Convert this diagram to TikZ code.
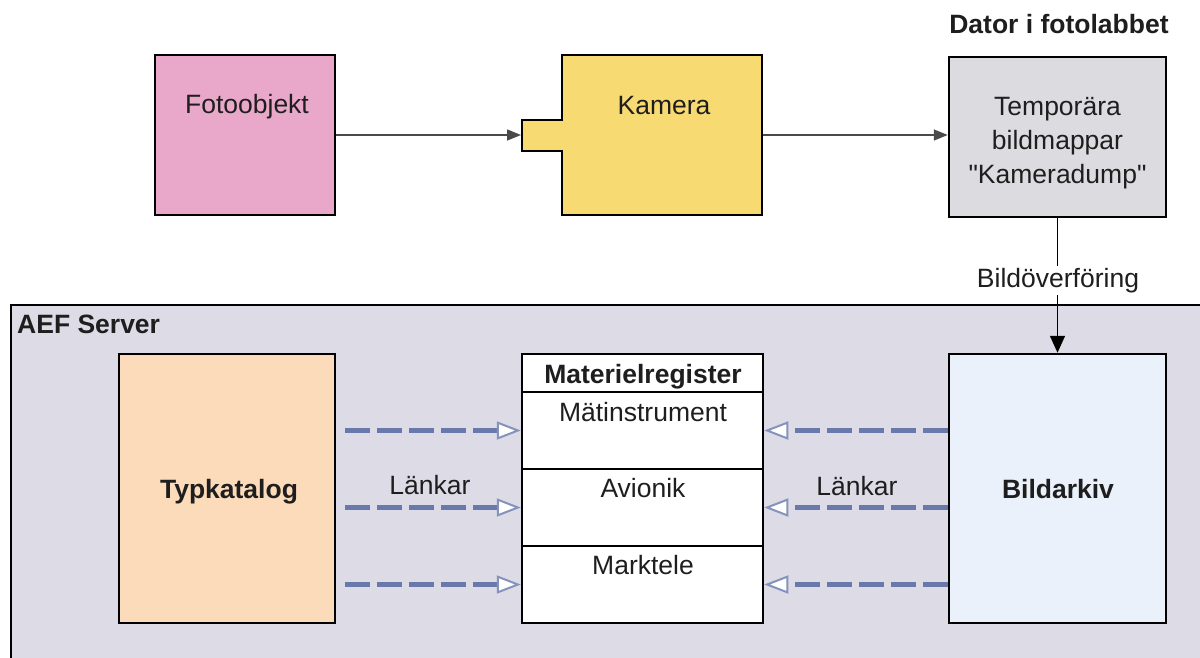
\documentclass[tikz,border=0pt]{standalone}
\usepackage{fontspec}
\setmainfont{Liberation Sans}
\newfontfamily\plainquotes{Liberation Sans}
\usetikzlibrary{arrows.meta,calc}
\definecolor{fotopink}{HTML}{E9A7C9}
\definecolor{kamyellow}{HTML}{F8DA72}
\definecolor{tmpgray}{HTML}{DCDCE0}
\definecolor{srvbg}{HTML}{DDDCE6}
\definecolor{typpeach}{HTML}{FCDBBB}
\definecolor{arkblue}{HTML}{EAF1FB}
\definecolor{dashblue}{HTML}{6A79AB}
\definecolor{tipblue}{HTML}{8593BC}
\definecolor{txtdark}{HTML}{1E1E1E}
\definecolor{arrgray}{HTML}{4A4A4A}
\begin{document}
\begin{tikzpicture}[x=1pt,y=-1pt,
  box/.style={draw=black, line width=2.5pt, rectangle, inner sep=0pt},
  txt/.style={anchor=base, inner sep=0pt, text=txtdark, font=\fontsize{26.5}{34}\selectfont},
  btxt/.style={anchor=base, inner sep=0pt, text=txtdark, font=\fontsize{26.5}{34}\selectfont\bfseries},
  toparrow/.style={draw=arrgray, line width=1.5pt, -{Triangle[length=14pt,width=11pt]}},
  linkarrow/.style={draw=dashblue, line width=5pt, dash pattern=on 25pt off 7pt,
    -{Triangle[open, length=24pt, width=18pt, line width=2pt, color=tipblue, fill=white]}},
]
\useasboundingbox (0,0) rectangle (1200,657);

% AEF server area
\node[box, fill=srvbg, minimum width=1194pt, minimum height=362pt] (srv) at (608,486) {};
\node[btxt, anchor=base west] (srvlabel) at (17,333) {AEF Server};

% top row
\node[box, fill=fotopink, minimum width=180pt, minimum height=160pt] (foto) at (245,135) {};
\node[txt] (fototxt) at (247,113) {Fotoobjekt};

\node[box, fill=kamyellow, minimum width=200pt, minimum height=160pt] (kam) at (662,135) {};
\fill[kamyellow] (522,120) rectangle (564,151);
\draw[black, line width=2.5pt] (563.25,120) -- (522,120) -- (522,151) -- (563.25,151);
\coordinate (nub) at (521,135);
\node[txt] (kamtxt) at (664,114) {Kamera};

\node[box, fill=tmpgray, minimum width=217pt, minimum height=160pt] (tmp) at (1057.5,137) {};
\node[txt, align=center, font=\fontsize{26.5}{34}\plainquotes] (tmptxt) at (1057.5,183) {Temporära\\bildmappar\\"Kameradump"};
\node[btxt] (datorlabel) at (1059,33) {Dator i fotolabbet};

\draw[toparrow] (foto.east) -- (nub);
\draw[toparrow] (kam.east) -- (kam.east -| tmp.west);

% server contents
\node[box, fill=typpeach, minimum width=216pt, minimum height=269pt] (typ) at (227,488.5) {};
\node[btxt] (typtxt) at (229,498) {Typkatalog};

\node[box, fill=arkblue, minimum width=217pt, minimum height=269pt] (ark) at (1057.5,488.5) {};
\node[btxt] (arktxt) at (1058,498) {Bildarkiv};

\node[box, fill=white, minimum width=241pt, minimum height=38pt] (mhead) at (642.5,373) {};
\node[box, fill=white, minimum width=241pt, minimum height=77pt] (m1) at (642.5,430.5) {};
\node[box, fill=white, minimum width=241pt, minimum height=77pt] (m2) at (642.5,507.5) {};
\node[box, fill=white, minimum width=241pt, minimum height=77pt] (m3) at (642.5,584.5) {};
\node[btxt] (mheadtxt) at (643,383) {Materielregister};
\node[txt] (m1txt) at (643,421) {Mätinstrument};
\node[txt] (m2txt) at (643,497) {Avionik};
\node[txt] (m3txt) at (643,574) {Marktele};

\foreach \r in {m1,m2,m3}{
  \draw[linkarrow, shorten <=9pt] (\r.west -| typ.east) -- (\r.west);
  \draw[linkarrow] (\r.east -| ark.west) -- (\r.east);
}
\node[txt] (lank1) at (430,494) {Länkar};
\node[txt] (lank2) at (857,495) {Länkar};

% transfer
\draw[black, line width=1.5pt, -{Triangle[length=17pt,width=15pt]}] (tmp.south) -- (ark.north);
\node[txt, fill=white, inner sep=2pt] (bolabel) at (1058,287) {Bildöverföring};
\end{tikzpicture}
\end{document}
